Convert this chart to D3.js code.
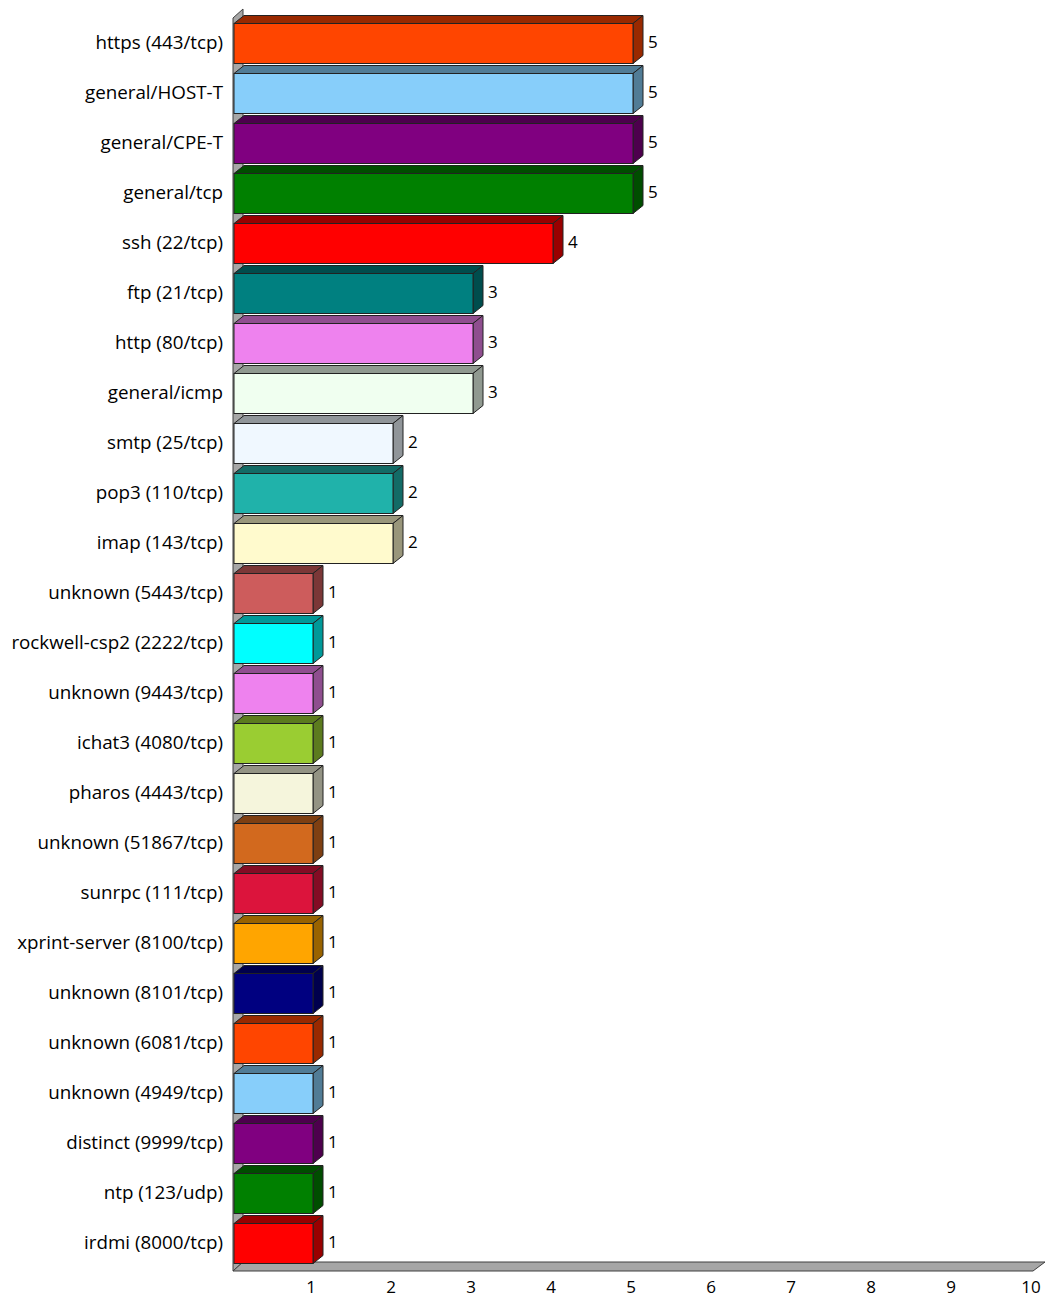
<!DOCTYPE html>
<html>
<head>
<meta charset="utf-8">
<script src="https://cdn.jsdelivr.net/npm/d3@7"></script>
<style>
  body { margin: 0; background: #fff; }
  text { font-family: "Open Sans", "Noto Sans", sans-serif; fill: #000; }
</style>
</head>
<body>
<div id="chart"></div>
<script>
var categories = [
  "https (443/tcp)", "general/HOST-T", "general/CPE-T", "general/tcp", "ssh (22/tcp)",
  "ftp (21/tcp)", "http (80/tcp)", "general/icmp", "smtp (25/tcp)", "pop3 (110/tcp)",
  "imap (143/tcp)", "unknown (5443/tcp)", "rockwell-csp2 (2222/tcp)", "unknown (9443/tcp)",
  "ichat3 (4080/tcp)", "pharos (4443/tcp)", "unknown (51867/tcp)", "sunrpc (111/tcp)",
  "xprint-server (8100/tcp)", "unknown (8101/tcp)", "unknown (6081/tcp)", "unknown (4949/tcp)",
  "distinct (9999/tcp)", "ntp (123/udp)", "irdmi (8000/tcp)"
];
var counts = [5, 5, 5, 5, 4, 3, 3, 3, 2, 2, 2, 1, 1, 1, 1, 1, 1, 1, 1, 1, 1, 1, 1, 1, 1];
var barColors = [
  "#FF4500", "#87CEFA", "#800080", "#008000", "#FF0000", "#008080", "#EE82EE", "#F0FFF0",
  "#F0F8FF", "#20B2AA", "#FFFACD", "#CD5C5C", "#00FFFF", "#EE82EE", "#9ACD32", "#F5F5DC",
  "#D2691E", "#DC143C", "#FFA500", "#000080", "#FF4500", "#87CEFA", "#800080", "#008000", "#FF0000"
];
var xTicks = [1, 2, 3, 4, 5, 6, 7, 8, 9, 10];

var svgWidth = 1046;
var svgHeight = 1299;

// depth of the 3d effect
var dx = 10;
var dy = -8;

var svg = d3.select("#chart")
  .append("svg")
  .attr("width", svgWidth)
  .attr("height", svgHeight);

var x = d3.scaleLinear()
  .domain([0, 10])
  .range([233, 1033]);

var y = d3.scaleBand()
  .domain(categories)
  .range([17, 1267]);

var floorY = 1271;

// back wall (left side)
svg.append("path")
  .attr("d", `M${x(0)},18 L${x(0) + dx},${18 + dy - 1} L${x(0) + dx},${floorY + dy - 1} L${x(0)},${floorY} Z`)
  .attr("fill", "#a6a6a6")
  .attr("stroke", "#404040")
  .attr("stroke-width", 1);

// floor
svg.append("path")
  .attr("d", `M${x(0)},${floorY} L${x(0) + dx},${floorY + dy - 1} L${x(10) + dx + 2},${floorY + dy - 1} L${x(10)},${floorY} Z`)
  .attr("fill", "#a6a6a6")
  .attr("stroke", "#404040")
  .attr("stroke-width", 1);

// x tick labels
svg.append("g")
  .selectAll("text")
  .data(xTicks)
  .enter()
  .append("text")
  .attr("x", d => x(d) - 2)
  .attr("y", 1293)
  .attr("text-anchor", "middle")
  .style("font-size", "17px")
  .text(d => d);

function darker(c, k) {
  var col = d3.rgb(c);
  return d3.rgb(col.r * k, col.g * k, col.b * k).formatHex();
}

var barH = 40;
var bars = svg.append("g")
  .selectAll("g")
  .data(categories)
  .enter()
  .append("g");

bars.each(function(d, i) {
  var g = d3.select(this);
  var x0 = x(0) + 1;
  var x1 = x(counts[i]);
  var y0 = y(d) + 6.5;
  var y1 = y0 + barH;
  var col = barColors[i];
  // top face
  g.append("path")
    .attr("d", `M${x0},${y0} L${x0 + dx},${y0 + dy} L${x1 + dx},${y0 + dy} L${x1},${y0} Z`)
    .attr("fill", darker(col, 0.6))
    .attr("stroke", "#222")
    .attr("stroke-width", 1);
  // side face
  g.append("path")
    .attr("d", `M${x1},${y0} L${x1 + dx},${y0 + dy} L${x1 + dx},${y1 + dy} L${x1},${y1} Z`)
    .attr("fill", darker(col, 0.6))
    .attr("stroke", "#222")
    .attr("stroke-width", 1);
  // front face
  g.append("rect")
    .attr("x", x0)
    .attr("y", y0)
    .attr("width", x1 - x0)
    .attr("height", barH)
    .attr("fill", col)
    .attr("stroke", "#222")
    .attr("stroke-width", 1);
  // value label
  g.append("text")
    .attr("x", x1 + dx + 5)
    .attr("y", y(d) + y.bandwidth() / 2)
    .attr("dy", "0.35em")
    .style("font-size", "17px")
    .text(counts[i]);
});

// category labels
svg.append("g")
  .selectAll("text")
  .data(categories)
  .enter()
  .append("text")
  .attr("x", 223)
  .attr("y", d => y(d) + y.bandwidth() / 2)
  .attr("dy", "0.35em")
  .attr("text-anchor", "end")
  .style("font-size", "18.8px")
  .text(d => d);
</script>
</body>
</html>
